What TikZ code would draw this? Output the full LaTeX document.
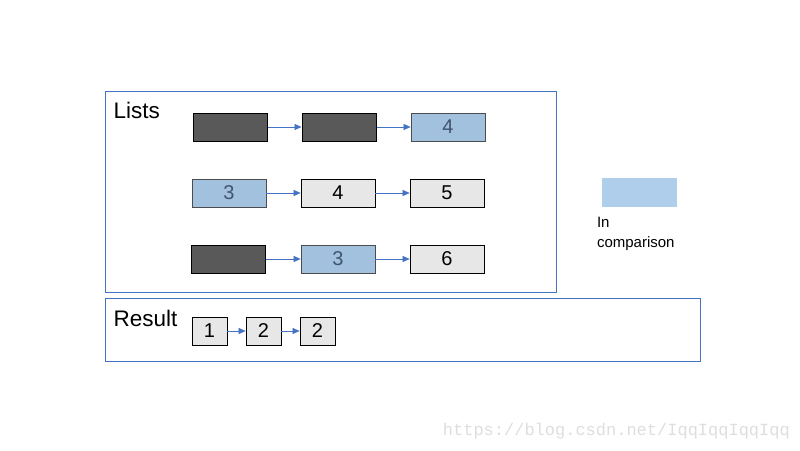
\documentclass[tikz,border=0pt]{standalone}
\usepackage{fontspec}
\setmainfont{Liberation Sans}
\newfontfamily\wmfont{Liberation Mono}
\usetikzlibrary{arrows.meta,positioning}
\definecolor{FrameBlue}{RGB}{68,114,196}
\definecolor{DarkCell}{RGB}{89,89,89}
\definecolor{HitCell}{RGB}{162,193,222}
\definecolor{HitText}{RGB}{64,84,110}
\definecolor{PlainCell}{RGB}{231,231,231}
\definecolor{KeyBlue}{RGB}{174,206,236}
\tikzset{
  link/.style={-{Triangle[length=7pt,width=6pt]}, line width=0.6pt, draw=FrameBlue},
  frame/.style={draw=FrameBlue, line width=0.8pt},
  cell/.style={draw=black, line width=0.7pt, minimum width=74pt, minimum height=28pt,
    inner sep=0pt, font=\fontsize{20}{22}\selectfont},
  done/.style={cell, fill=DarkCell, line width=1pt},
  hit/.style={cell, fill=HitCell, draw=black!70, text=HitText},
  plain/.style={cell, fill=PlainCell},
  small/.style={cell, fill=PlainCell, minimum width=35pt},
  title/.style={font=\fontsize{22.5}{25}\selectfont, anchor=west},
}

\begin{document}
\begin{tikzpicture}[x=1pt,y=-1pt]
\useasboundingbox (0,0) rectangle (800,450);

% ---- Lists ----
\draw[frame] (105,91) rectangle (556,292);
\node[title] (lists) at (110,110) {Lists};

\node[done]  (a1) at (230,127) {};
\node[done]  (a2) at (339,127) {};
\node[hit]   (a3) at (448,127) {4};

\node[hit]   (b1) at (229,193) {3};
\node[plain] (b2) at (338,193) {4};
\node[plain] (b3) at (447,193) {5};

\node[done]  (c1) at (228,259) {};
\node[hit]   (c2) at (338,259) {3};
\node[plain] (c3) at (447,259) {6};

\foreach \r in {a,b,c} {
  \draw[link] (\r1) -- (\r2);
  \draw[link] (\r2) -- (\r3);
}

% ---- Result ----
\draw[frame] (105,298) rectangle (700,361);
\node[title] (result) at (110,318) {Result};
\node[small] (r1) at (209.5,331) {1};
\node[small] (r2) at (263.5,331) {2};
\node[small] (r3) at (317.5,331) {2};
\draw[link] (r1) -- (r2);
\draw[link] (r2) -- (r3);

% ---- Legend ----
\node[fill=KeyBlue, minimum width=75pt, minimum height=29pt, inner sep=0pt] (key) at (639.5,192.5) {};
\node[below=10pt of key.south west, xshift=-5pt, anchor=north west, align=left,
  font=\fontsize{15}{19.5}\selectfont, inner sep=0pt] (keytext) {In\\comparison};

% ---- Watermark ----
\node[anchor=east, text=black!13, font=\wmfont\fontsize{17}{18}\selectfont, inner sep=0pt]
  (mark) at (790,431) {https://blog.csdn.net/IqqIqqIqqIqq};

\end{tikzpicture}
\end{document}
